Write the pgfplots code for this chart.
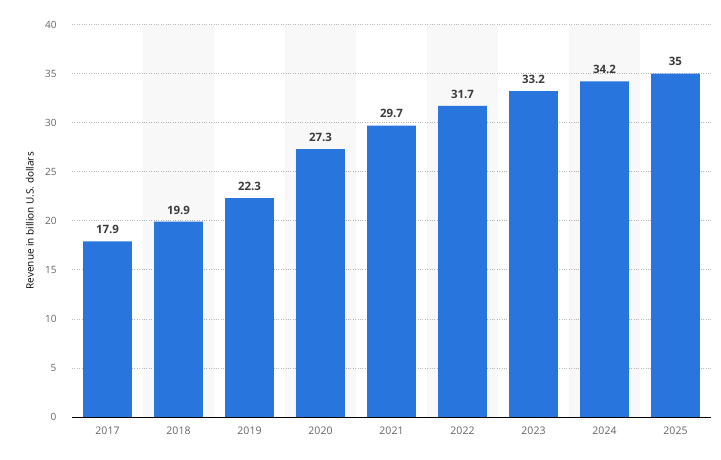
\documentclass[border=0pt]{standalone}
\usepackage{pgfplots}
\pgfplotsset{compat=1.18}
\usepackage{fontspec}
\setmainfont{Open Sans}
\definecolor{barblue}{RGB}{40,118,221}
\definecolor{tickgray}{RGB}{100,100,100}
\definecolor{valgray}{RGB}{60,60,60}

\pgfplotstableread{
x year  rev
0 2017  17.9
1 2018  19.9
2 2019  22.3
3 2020  27.3
4 2021  29.7
5 2022  31.7
6 2023  33.2
7 2024  34.2
8 2025  35
}\revtable

\begin{document}
\begin{tikzpicture}
\begin{axis}[
    at={(72pt,42pt)}, anchor=south west,
    scale only axis, width=639pt, height=392.5pt,
    xmin=-0.5, xmax=8.5, ymin=0, ymax=40,
    axis line style={draw=none},
    ytick={0,5,...,40},
    xtick={0,...,8},
    xticklabels={2017,2018,2019,2020,2021,2022,2023,2024,2025},
    ymajorgrids,
    grid style={dotted, gray!55, line width=0.7pt},
    /pgf/number format/assume math mode=true,
    tick label style={font=\fontsize{10}{12}\selectfont, text=tickgray},
    yticklabel style={anchor=east, xshift=-12pt},
    xticklabel style={yshift=-6pt, font=\fontsize{10.5}{12}\selectfont},
    major tick length=0pt,
    ylabel={Revenue in billion U.S. dollars},
    ylabel style={font=\fontsize{8.5}{10}\selectfont, text={rgb,255:red,110;green,95;blue,95}},
    every axis y label/.style={at={(axis description cs:-0.066,0.5)}, rotate=90, anchor=center},
    clip=false,
]
% alternating background bands (translucent so the grid shows through)
\addplot[ybar, bar width=1, bar shift=0pt, fill=black, fill opacity=0.028, draw=none]
  coordinates {(1,40) (3,40) (5,40) (7,40)};
\addplot[ybar, bar width=0.69, bar shift=0pt, fill=barblue, draw=none,
  nodes near coords,
  every node near coord/.append style={font=\bfseries\fontsize{11.5}{13}\selectfont, text=valgray, yshift=4pt, fill opacity=1, text opacity=1},
  point meta=explicit symbolic]
  table[x=x, y=rev, meta=rev] {\revtable};
\draw[black, line width=1pt] (axis cs:-0.5,0) -- (axis cs:8.5,0);
\end{axis}
\path (0,0) rectangle (721pt,459pt);
\end{tikzpicture}
\end{document}
